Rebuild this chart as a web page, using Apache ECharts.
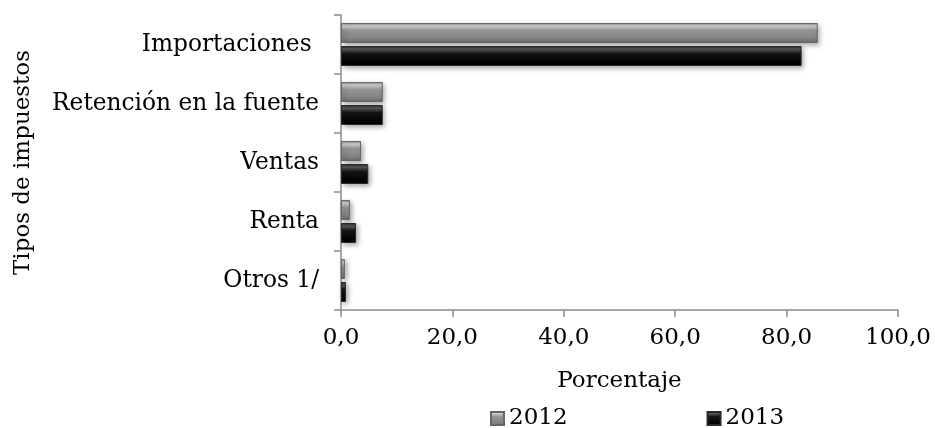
<!DOCTYPE html>
<html>
<head>
<meta charset="utf-8">
<script src="https://cdn.jsdelivr.net/npm/echarts@6/dist/echarts.min.js"></script>
<style>
html,body{margin:0;padding:0;background:#fff;}
#chart{width:935px;height:428px;}
</style>
</head>
<body>
<div id="chart"></div>
<script>
const categories = ['Importaciones ', 'Retención en la fuente', 'Ventas', 'Renta', 'Otros 1/'];
const values2012 = [85.6, 7.5, 3.6, 1.6, 0.7];
const values2013 = [82.7, 7.5, 4.9, 2.7, 0.9];
const seriesNames = ['2012', '2013'];
const xTicks = { min: 0, max: 100, interval: 20 };

const FONT = 'DejaVu Serif';
const grad2012 = new echarts.graphic.LinearGradient(0, 0, 0, 1, [
  { offset: 0, color: '#8e8e8e' },
  { offset: 0.16, color: '#cfcfcf' },
  { offset: 0.38, color: '#939393' },
  { offset: 0.75, color: '#858585' },
  { offset: 1, color: '#6a6a6a' }
]);
const grad2013 = new echarts.graphic.LinearGradient(0, 0, 0, 1, [
  { offset: 0, color: '#262626' },
  { offset: 0.16, color: '#5a5a5a' },
  { offset: 0.38, color: '#151515' },
  { offset: 0.75, color: '#050505' },
  { offset: 1, color: '#000000' }
]);

const chart = echarts.init(document.getElementById('chart'), null, { renderer: 'canvas' });
chart.setOption({
  animation: false,
  backgroundColor: '#ffffff',
  textStyle: { fontFamily: FONT, color: '#000' },
  legend: {
    data: seriesNames,
    icon: 'rect',
    left: 490,
    top: 407,
    padding: 0,
    itemWidth: 13,
    itemHeight: 13,
    itemGap: 139,
    textStyle: { fontFamily: FONT, fontSize: 23, color: '#000' }
  },
  grid: {
    left: 341, right: 37, top: 15, bottom: 118,
    containLabel: false,
    outerBoundsMode: 'none'
  },
  xAxis: {
    type: 'value',
    min: xTicks.min, max: xTicks.max, interval: xTicks.interval,
    name: 'Porcentaje',
    nameLocation: 'middle',
    nameGap: 60,
    nameTextStyle: { fontFamily: FONT, fontSize: 23, color: '#000' },
    axisLine: { show: true, lineStyle: { color: '#8c8c8c', width: 1.5 } },
    axisTick: { show: true, length: 7, lineStyle: { color: '#8c8c8c', width: 1.5 } },
    splitLine: { show: false },
    axisLabel: {
      fontFamily: FONT, fontSize: 23, color: '#000', margin: 17,
      showMaxLabel: true, showMinLabel: true,
      formatter: v => v.toFixed(1).replace('.', ',')
    }
  },
  yAxis: {
    type: 'category',
    data: categories,
    inverse: true,
    name: 'Tipos de impuestos',
    nameLocation: 'middle',
    nameRotate: 90,
    nameGap: 306,
    nameTextStyle: { fontFamily: FONT, fontSize: 23, color: '#000' },
    axisLine: { show: true, lineStyle: { color: '#8c8c8c', width: 1.5 } },
    axisTick: { show: true, length: 7, lineStyle: { color: '#8c8c8c', width: 1.5 } },
    axisLabel: { fontFamily: FONT, fontSize: 23.3, color: '#000', margin: 22 }
  },
  series: [
    {
      name: seriesNames[0], type: 'bar', data: values2012,
      barWidth: 20, barGap: '15%',
      itemStyle: {
        color: grad2012, borderColor: '#666666', borderWidth: 1,
        shadowBlur: 5, shadowOffsetX: 2, shadowOffsetY: 2, shadowColor: 'rgba(0,0,0,0.35)'
      }
    },
    {
      name: seriesNames[1], type: 'bar', data: values2013,
      barWidth: 20, barGap: '15%',
      itemStyle: {
        color: grad2013, borderColor: '#2a2a2a', borderWidth: 1,
        shadowBlur: 5, shadowOffsetX: 2, shadowOffsetY: 2, shadowColor: 'rgba(0,0,0,0.35)'
      }
    }
  ]
});
</script>
</body>
</html>
